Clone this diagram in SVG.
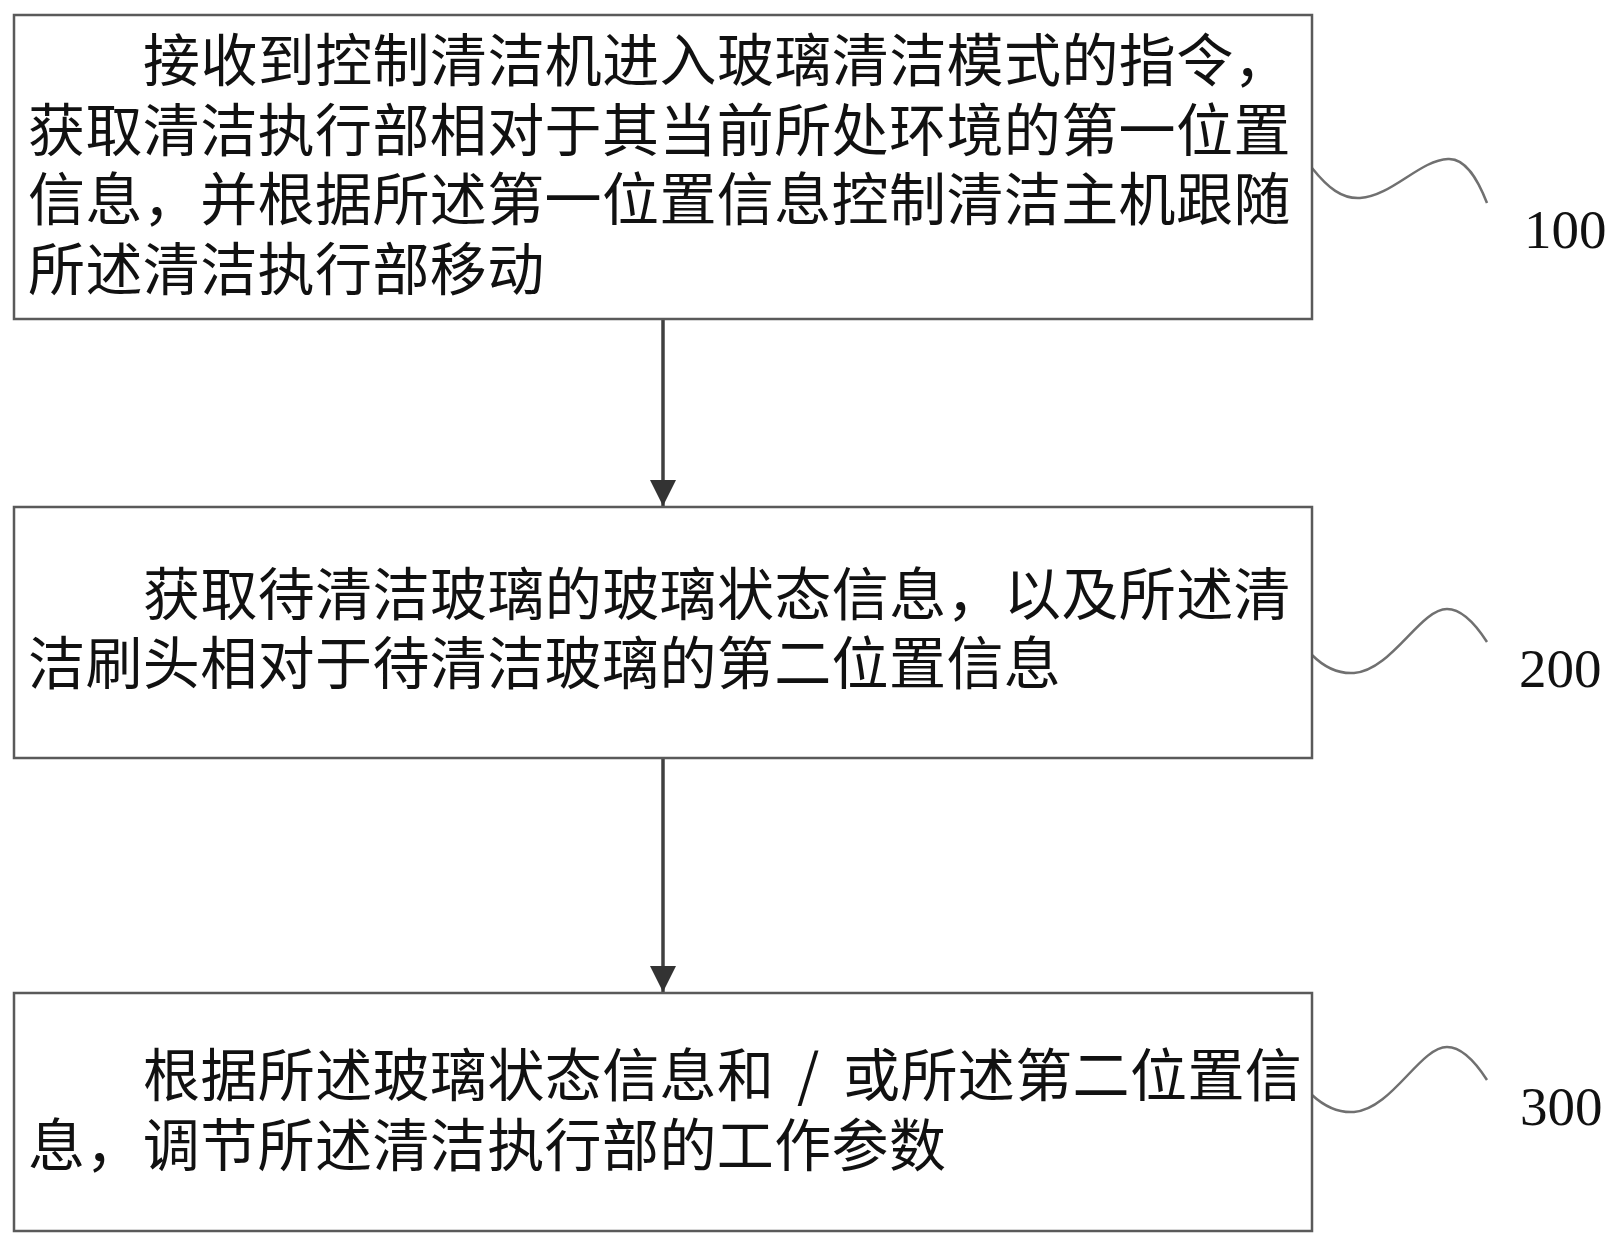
<svg xmlns="http://www.w3.org/2000/svg" width="1618" height="1245" viewBox="0 0 1618 1245">
<style>
.box{fill:#fff;stroke:#5a5a5a;stroke-width:2.5}
.t{font-family:"Noto Sans CJK SC","Noto Sans CJK JP",sans-serif;font-size:57px;letter-spacing:0.4px;fill:#111}
.lbl{font-family:"Liberation Serif","Times New Roman",serif;font-size:55px;fill:#111}
.wave{fill:none;stroke:#707070;stroke-width:2.5}
.conn{stroke:#404040;stroke-width:3.5;fill:none}
</style>
<defs>
<marker id="ah" markerUnits="userSpaceOnUse" markerWidth="26" markerHeight="28" refX="26" refY="13" orient="auto">
<path d="M0,0 L26,13 L0,26 Z" fill="#333"/>
</marker>
</defs>
<rect width="1618" height="1245" fill="#fff"/>
<g id="connectors">
<line class="conn" x1="663" y1="319" x2="663" y2="506" marker-end="url(#ah)"/>
<line class="conn" x1="663" y1="758" x2="663" y2="992" marker-end="url(#ah)"/>
<path class="wave" d="M1312,168 C1328,188 1342,199 1360,198 C1392,196 1420,160 1448,159 C1466,158 1478,180 1487,203"/>
<path class="wave" d="M1312,655 C1325,668 1338,674 1354,673 C1392,670 1420,609 1447,609 C1464,609 1478,628 1487,642"/>
<path class="wave" d="M1312,1095 C1325,1107 1338,1113 1354,1112 C1392,1109 1420,1047 1447,1047 C1464,1047 1478,1066 1487,1080"/>
</g>
<g id="step100">
<rect class="box" x="14" y="15" width="1298" height="304"/>
<text class="t" x="143" y="81">接收到控制清洁机进入玻璃清洁模式的指令，</text>
<text class="t" x="28" y="151">获取清洁执行部相对于其当前所处环境的第一位置</text>
<text class="t" x="28" y="220">信息，并根据所述第一位置信息控制清洁主机跟随</text>
<text class="t" x="28" y="290">所述清洁执行部移动</text>
<text class="lbl" x="1524" y="248">100</text>
</g>
<g id="step200">
<rect class="box" x="14" y="507" width="1298" height="251"/>
<text class="t" x="143" y="615">获取待清洁玻璃的玻璃状态信息，以及所述清</text>
<text class="t" x="28" y="684">洁刷头相对于待清洁玻璃的第二位置信息</text>
<text class="lbl" x="1519" y="687">200</text>
</g>
<g id="step300">
<rect class="box" x="14" y="993" width="1298" height="238"/>
<text class="t" y="1096"><tspan x="143">根据所述玻璃状态信息和 </tspan><tspan x="797">/ </tspan><tspan x="843">或所述第二位置信</tspan></text>
<text class="t" x="28" y="1166">息，调节所述清洁执行部的工作参数</text>
<text class="lbl" x="1520" y="1125">300</text>
</g>
</svg>
